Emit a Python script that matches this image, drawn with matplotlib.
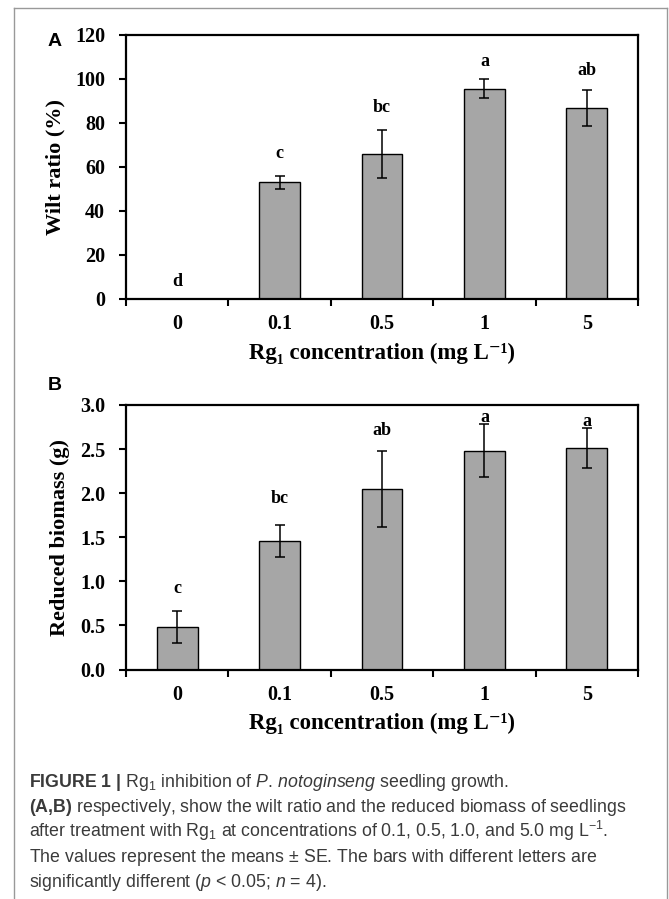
import numpy as np
import matplotlib
matplotlib.use('Agg')
import matplotlib.pyplot as plt
from matplotlib.ticker import FormatStrFormatter, FixedLocator
from matplotlib.lines import Line2D

plt.rcParams['mathtext.fontset'] = 'custom'
plt.rcParams['mathtext.rm'] = 'Liberation Sans'
plt.rcParams['mathtext.it'] = 'Liberation Sans:italic'
plt.rcParams['mathtext.bf'] = 'Liberation Sans:bold'

conc_labels = ['0', '0.1', '0.5', '1', '5']
wilt = [0, 53, 66, 95.5, 87]
wilt_se = [0, 3, 11, 4.3, 8.2]
wilt_letters = ['d', 'c', 'bc', 'a', 'ab']
wilt_letter_y = [8, 66, 87, 108, 104]
biomass = [0.48, 1.46, 2.05, 2.48, 2.51]
biomass_se = [0.18, 0.18, 0.43, 0.30, 0.23]
biomass_letters = ['c', 'bc', 'ab', 'a', 'a']
biomass_letter_y = [0.92, 1.94, 2.71, 2.86, 2.81]

serif = ['Liberation Serif', 'DejaVu Serif']
cap_font = ['Liberation Sans', 'DejaVu Sans']

fig = plt.figure(figsize=(6.69, 8.99), dpi=100)
W, H = 669, 899


def panel(rect, vals, errs, letters, letter_y, yticks, ylabel, fmt, tag, tag_y):
    ax = fig.add_axes(rect)
    x = np.arange(len(vals))
    ax.bar(x, vals, width=0.4, color='#a6a6a6', edgecolor='black', linewidth=1.0, zorder=2)
    ax.errorbar(x, vals, yerr=errs, fmt='none', ecolor='black', elinewidth=1.1,
                capsize=3.5, capthick=1.1, zorder=3)
    for xi, lab, ly in zip(x, letters, letter_y):
        ax.text(xi, ly, lab, ha='center', va='center', fontsize=13,
                fontweight='bold', family=serif)
    ax.set_xlim(-0.5, len(vals) - 0.5)
    ax.set_ylim(yticks[0], yticks[-1])
    ax.set_yticks(yticks)
    ax.yaxis.set_major_formatter(FormatStrFormatter(fmt))
    ax.set_xticks(x)
    ax.set_xticklabels(conc_labels)
    ax.xaxis.set_minor_locator(FixedLocator(np.arange(-0.5, len(vals), 1.0)))
    ax.tick_params(axis='x', which='major', length=0, pad=11)
    ax.tick_params(axis='x', which='minor', length=5, width=1.5, direction='out')
    ax.tick_params(axis='y', length=5, width=1.5, direction='out', pad=10)
    for lab in ax.get_xticklabels() + ax.get_yticklabels():
        lab.set_family(serif)
        lab.set_fontweight('bold')
        lab.set_fontsize(14.5)
    for s in ax.spines.values():
        s.set_linewidth(1.6)
    ax.set_ylabel(ylabel, family=serif, fontweight='bold', fontsize=16, labelpad=7)
    ax.set_xlabel('Rg\u2081 concentration (mg L\u207b\u00b9)', family=serif,
                  fontweight='bold', fontsize=16.5, labelpad=6)
    fig.text(55 / W, 1 - tag_y / H, tag, ha='center', va='center',
             fontsize=14, fontweight='bold', family=['Liberation Sans', 'DejaVu Sans'])
    return ax


ax1 = panel([126 / W, 1 - 299 / H, 512 / W, 264 / H], wilt, wilt_se, wilt_letters,
            wilt_letter_y, [0, 20, 40, 60, 80, 100, 120], 'Wilt ratio (%)', '%d', 'A', 41)
ax2 = panel([126 / W, 1 - 669.5 / H, 512 / W, 264.5 / H], biomass, biomass_se, biomass_letters,
            biomass_letter_y, [0.0, 0.5, 1.0, 1.5, 2.0, 2.5, 3.0], 'Reduced biomass (g)', '%.1f',
            'B', 385)

# frame around the figure
border = '#999999'
fig.add_artist(Line2D([14 / W, 14 / W], [0, 1 - 8 / H], color=border, lw=1.0))
fig.add_artist(Line2D([667 / W, 667 / W], [0, 1 - 8 / H], color=border, lw=1.0))
fig.add_artist(Line2D([14 / W, 667 / W], [1 - 8 / H, 1 - 8 / H], color=border, lw=1.0))

caption = [
    r'$\mathbf{FIGURE\ 1\ |}$ Rg$_1$ inhibition of $\mathit{P.\,notoginseng}$ seedling growth.',
    r'$\mathbf{(A{,}B)}$ respectively, show the wilt ratio and the reduced biomass of seedlings',
    r'after treatment with Rg$_1$ at concentrations of 0.1, 0.5, 1.0, and 5.0 mg L$^{-1}$.',
    r'The values represent the means $\pm$ SE. The bars with different letters are',
    r'significantly different ($p$ < 0.05; $n$ = 4).',
]
baselines = [787, 812, 837, 862, 887]
for line, yb in zip(caption, baselines):
    fig.text(29 / W, 1 - yb / H, line, ha='left', va='baseline', fontsize=12.8,
             family=cap_font, color='#3a3a3a')

fig.savefig('out.png', dpi=100)
